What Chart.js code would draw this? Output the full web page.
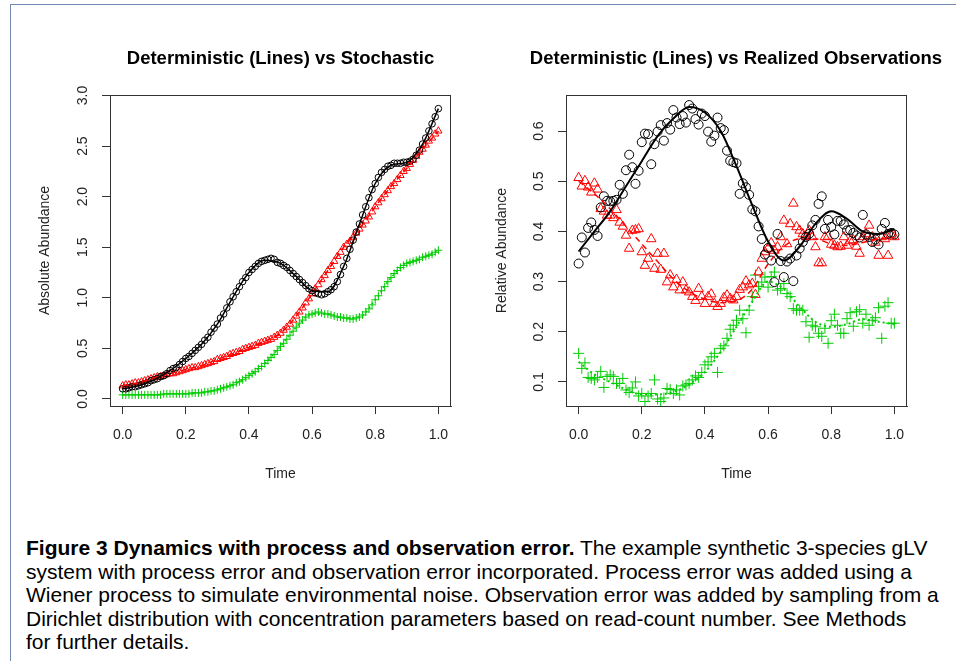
<!DOCTYPE html>
<html>
<head>
<meta charset="utf-8">
<script src="https://cdn.jsdelivr.net/npm/chart.js@4"></script>
<style>
  body { margin: 0; background: #fff; width: 956px; height: 661px; overflow: hidden; position: relative; }
  #frame { position: absolute; left: 10px; top: 4px; width: 960px; height: 700px;
           border-left: 1.5px solid #7089ad; border-top: 1.5px solid #7089ad; }
  #left { position: absolute; left: 0; top: 0; }
  #right { position: absolute; left: 478px; top: 0; }
  #caption { position: absolute; left: 26px; top: 536px; font-family: "Liberation Sans", Arial, sans-serif;
             font-size: 21px; line-height: 23.5px; color: #000; white-space: nowrap; }
</style>
</head>
<body>
<div id="frame"></div>
<canvas id="left" width="561" height="500"></canvas>
<canvas id="right" width="516" height="500"></canvas>
<div id="caption">
  <div><b>Figure 3 Dynamics with process and observation error.</b> The example synthetic 3-species gLV</div>
  <div>system with process error and observation error incorporated. Process error was added using a</div>
  <div>Wiener process to simulate environmental noise. Observation error was added by sampling from a</div>
  <div>Dirichlet distribution with concentration parameters based on read-count number. See Methods</div>
  <div>for further details.</div>
</div>
<script>
// sample times of the simulated / observed series
const timeObs = [0,0.01,0.02,0.03,0.04,0.05,0.06,0.07,0.08,0.09,
  0.10,0.11,0.12,0.13,0.14,0.15,0.16,0.17,0.18,0.19,
  0.20,0.21,0.22,0.23,0.24,0.25,0.26,0.27,0.28,0.29,
  0.30,0.31,0.32,0.33,0.34,0.35,0.36,0.37,0.38,0.39,
  0.40,0.41,0.42,0.43,0.44,0.45,0.46,0.47,0.48,0.49,
  0.50,0.51,0.52,0.53,0.54,0.55,0.56,0.57,0.58,0.59,
  0.60,0.61,0.62,0.63,0.64,0.65,0.66,0.67,0.68,0.69,
  0.70,0.71,0.72,0.73,0.74,0.75,0.76,0.77,0.78,0.79,
  0.80,0.81,0.82,0.83,0.84,0.85,0.86,0.87,0.88,0.89,
  0.90,0.91,0.92,0.93,0.94,0.95,0.96,0.97,0.98,0.99,1.00];
// times of the deterministic curves
const detTime = [0,0.05,0.10,0.15,0.20,0.25,0.30,0.35,0.40,0.45,0.50,
  0.55,0.60,0.65,0.70,0.75,0.80,0.85,0.90,0.95,1.00];

const xTicks = [0, 0.2, 0.4, 0.6, 0.8, 1.0];
const absTicks = [0, 0.5, 1.0, 1.5, 2.0, 2.5, 3.0];
const relTicks = [0.1, 0.2, 0.3, 0.4, 0.5, 0.6];

// left panel: stochastic absolute abundance
const absBlack = [0.10,0.10,0.11,0.12,0.12,0.13,0.14,0.15,0.16,0.18,
  0.19,0.20,0.22,0.23,0.25,0.28,0.30,0.31,0.34,0.37,
  0.40,0.42,0.45,0.48,0.51,0.54,0.58,0.61,0.66,0.70,
  0.74,0.80,0.84,0.90,0.96,1.01,1.06,1.11,1.16,1.20,
  1.25,1.28,1.31,1.34,1.36,1.37,1.38,1.39,1.38,1.35,
  1.34,1.32,1.30,1.27,1.24,1.21,1.18,1.15,1.12,1.09,
  1.07,1.05,1.04,1.03,1.04,1.06,1.08,1.11,1.16,1.23,
  1.31,1.39,1.48,1.57,1.65,1.73,1.82,1.90,1.99,2.07,
  2.13,2.19,2.24,2.27,2.30,2.31,2.33,2.33,2.33,2.34,
  2.34,2.35,2.37,2.41,2.46,2.52,2.58,2.65,2.72,2.79,2.87];
const absRed = [0.13,0.14,0.14,0.15,0.16,0.16,0.17,0.18,0.19,0.20,
  0.21,0.22,0.22,0.23,0.24,0.25,0.25,0.26,0.27,0.28,
  0.29,0.30,0.31,0.31,0.32,0.33,0.34,0.35,0.36,0.37,
  0.39,0.40,0.41,0.42,0.44,0.45,0.46,0.47,0.49,0.50,
  0.51,0.52,0.53,0.55,0.56,0.57,0.58,0.59,0.61,0.63,
  0.65,0.68,0.71,0.74,0.78,0.82,0.86,0.90,0.95,0.99,
  1.04,1.09,1.13,1.18,1.22,1.27,1.31,1.36,1.41,1.45,
  1.50,1.53,1.56,1.60,1.64,1.68,1.72,1.76,1.80,1.85,
  1.90,1.94,1.98,2.02,2.06,2.10,2.13,2.17,2.21,2.25,
  2.28,2.32,2.36,2.40,2.44,2.47,2.51,2.55,2.58,2.62,2.65];
const absGreen = [0.04,0.04,0.04,0.04,0.04,0.04,0.04,0.04,0.04,0.04,
  0.04,0.04,0.04,0.05,0.05,0.05,0.05,0.05,0.05,0.05,
  0.05,0.05,0.06,0.06,0.06,0.06,0.07,0.07,0.08,0.08,
  0.09,0.10,0.11,0.12,0.13,0.14,0.16,0.17,0.19,0.21,
  0.23,0.25,0.27,0.30,0.32,0.35,0.38,0.41,0.44,0.48,
  0.52,0.55,0.59,0.63,0.67,0.71,0.75,0.78,0.81,0.83,
  0.84,0.85,0.86,0.85,0.84,0.84,0.83,0.82,0.81,0.81,
  0.80,0.80,0.79,0.79,0.80,0.81,0.83,0.86,0.89,0.93,
  0.98,1.02,1.07,1.11,1.16,1.20,1.24,1.27,1.30,1.32,
  1.34,1.35,1.36,1.37,1.38,1.40,1.41,1.42,1.43,1.45,1.47];
const absBlackLine = [0.10,0.13,0.19,0.28,0.40,0.54,0.74,1.01,1.25,1.37,1.34,
  1.21,1.07,1.06,1.31,1.73,2.13,2.31,2.34,2.52,2.87];
const absRedLine = [0.13,0.16,0.21,0.25,0.29,0.33,0.39,0.45,0.51,0.57,0.65,
  0.82,1.04,1.27,1.50,1.68,1.90,2.10,2.28,2.47,2.65];
const absGreenLine = [0.04,0.04,0.04,0.05,0.05,0.06,0.09,0.14,0.23,0.35,0.52,
  0.71,0.84,0.84,0.80,0.81,0.98,1.20,1.34,1.40,1.47];

// right panel: observed relative abundance
const relBlack = [0.336,0.388,0.358,0.407,0.418,0.403,0.391,0.448,0.470,0.461,
  0.460,0.461,0.463,0.493,0.475,0.522,0.553,0.528,0.495,0.521,
  0.578,0.595,0.594,0.534,0.574,0.599,0.612,0.581,0.616,0.603,
  0.642,0.627,0.614,0.630,0.617,0.652,0.645,0.624,0.613,0.635,
  0.630,0.599,0.579,0.591,0.627,0.606,0.602,0.561,0.541,0.538,
  0.536,0.475,0.496,0.488,0.473,0.444,0.440,0.410,0.385,0.354,
  0.367,0.342,0.299,0.395,0.341,0.309,0.340,0.346,0.301,0.352,
  0.366,0.379,0.389,0.395,0.412,0.423,0.455,0.470,0.405,0.423,
  0.409,0.394,0.421,0.421,0.414,0.402,0.403,0.397,0.392,0.388,
  0.433,0.394,0.389,0.379,0.384,0.374,0.405,0.417,0.395,0.397,0.394];
const relRed = [0.507,0.490,0.501,0.488,0.478,0.496,0.484,0.445,0.440,0.432,
  0.432,0.427,0.443,0.418,0.410,0.392,0.366,0.402,0.403,0.405,
  0.359,0.332,0.346,0.385,0.326,0.356,0.324,0.356,0.299,0.313,
  0.289,0.304,0.283,0.299,0.283,0.279,0.270,0.262,0.286,0.270,
  0.256,0.270,0.275,0.256,0.250,0.256,0.268,0.273,0.266,0.263,
  0.270,0.284,0.289,0.301,0.293,0.296,0.274,0.319,0.346,0.359,
  0.366,0.377,0.362,0.369,0.389,0.422,0.375,0.415,0.456,0.409,
  0.402,0.395,0.389,0.402,0.389,0.369,0.337,0.337,0.389,0.390,
  0.374,0.372,0.369,0.370,0.389,0.372,0.381,0.383,0.370,0.356,
  0.389,0.395,0.412,0.389,0.378,0.352,0.389,0.385,0.352,0.394,0.389];
const relGreen = [0.157,0.127,0.138,0.109,0.107,0.104,0.109,0.121,0.089,0.111,
  0.114,0.111,0.097,0.097,0.107,0.084,0.079,0.088,0.100,0.072,
  0.077,0.061,0.072,0.077,0.104,0.066,0.061,0.068,0.087,0.085,
  0.077,0.084,0.074,0.092,0.094,0.097,0.104,0.112,0.109,0.119,
  0.134,0.140,0.150,0.157,0.119,0.167,0.172,0.187,0.205,0.213,
  0.223,0.243,0.226,0.198,0.243,0.270,0.313,0.290,0.299,0.309,
  0.289,0.310,0.319,0.283,0.286,0.296,0.276,0.270,0.246,0.243,
  0.243,0.243,0.220,0.189,0.213,0.210,0.197,0.191,0.207,0.177,
  0.222,0.235,0.213,0.197,0.197,0.226,0.238,0.211,0.240,0.244,
  0.217,0.235,0.213,0.223,0.228,0.248,0.187,0.251,0.258,0.217,0.217];
const relBlackLine = [0.36,0.40,0.44,0.49,0.54,0.59,0.625,0.648,0.637,0.60,0.53,
  0.452,0.38,0.342,0.37,0.415,0.44,0.425,0.40,0.395,0.405];
const relRedLine = [0.50,0.475,0.445,0.41,0.375,0.34,0.305,0.28,0.265,0.258,0.262,
  0.285,0.335,0.37,0.385,0.385,0.375,0.372,0.378,0.385,0.388];
const relGreenLine = [0.14,0.115,0.10,0.085,0.075,0.075,0.08,0.095,0.12,0.16,0.21,
  0.26,0.30,0.285,0.25,0.22,0.21,0.215,0.225,0.22,0.215];

Chart.defaults.font.family = "'Liberation Sans', Arial, sans-serif";
Chart.defaults.animation = false;

const RED = '#ff0000', GREEN = '#00cd00', BLACK = '#000000';

function pairs(xs, ys) {
  return ys.map((y, i) => ({ x: xs[i], y: y }));
}

function curve(ys, color, width, dash) {
  return {
    data: pairs(detTime, ys), showLine: true, pointRadius: 0,
    borderColor: color, borderWidth: width, borderDash: dash,
    cubicInterpolationMode: 'monotone'
  };
}

function marks(ys, color, style, r) {
  return {
    data: pairs(timeObs, ys), showLine: false, pointStyle: style,
    pointRadius: r, pointHoverRadius: r, pointBorderColor: color,
    pointBackgroundColor: 'rgba(0,0,0,0)', pointBorderWidth: 1
  };
}

// R style box round the plot region
const boxPlugin = {
  id: 'box',
  afterDraw(chart) {
    const { ctx, chartArea: a } = chart;
    ctx.save();
    ctx.strokeStyle = '#333';
    ctx.lineWidth = 1;
    ctx.strokeRect(Math.round(a.left) + 0.5, Math.round(a.top) + 0.5,
      Math.round(a.right - a.left) - 1, Math.round(a.bottom - a.top));
    ctx.restore();
  }
};

// canvases are wide enough that the full-width title sits over the plot box;
// an empty right-hand axis keeps the space to the right of the box
function panel(id, p) {
  return new Chart(document.getElementById(id), {
    type: 'scatter',
    data: { datasets: p.datasets },
    plugins: [boxPlugin],
    options: {
      responsive: false,
      layout: { padding: 0 },
      plugins: {
        legend: { display: false },
        tooltip: { enabled: false },
        title: {
          display: true, text: p.title, fullSize: true, color: '#000',
          font: { size: 18.5, weight: 'bold' },
          padding: { top: 47.9, bottom: 24.9 }
        }
      },
      scales: {
        x: {
          type: 'linear', min: -0.04, max: 1.04,
          afterBuildTicks: s => { s.ticks = xTicks.map(v => ({ value: v })); },
          afterFit: s => { s.height = 94; },
          ticks: { callback: v => v.toFixed(1), font: { size: 14 }, color: '#222', padding: 13, maxRotation: 0 },
          grid: { drawOnChartArea: false, tickLength: 8, color: '#333' },
          border: { color: '#333' },
          title: { display: true, text: 'Time', font: { size: 14 }, color: '#222', padding: { top: 0, bottom: 17.6 } }
        },
        y: {
          type: 'linear', min: p.yMin, max: p.yMax,
          afterBuildTicks: s => { s.ticks = p.yTicks.map(v => ({ value: v })); },
          afterFit: s => { s.width = p.yWidth; },
          ticks: { callback: v => v.toFixed(1), font: { size: 14 }, color: '#222',
                   minRotation: 90, maxRotation: 90, crossAlign: 'center', padding: 9 },
          grid: { drawOnChartArea: false, tickLength: 8, color: '#333' },
          border: { color: '#333' },
          title: { display: true, text: p.yTitle, font: { size: 14 }, color: '#222',
                   padding: { top: p.yTitlePad, bottom: 0 } }
        },
        spacer: {
          type: 'linear', position: 'right', display: true,
          ticks: { display: false }, grid: { display: false }, border: { display: false },
          afterFit: s => { s.width = p.rightPad; }
        }
      }
    }
  });
}

panel('left', {
  title: 'Deterministic (Lines) vs Stochastic',
  yTitle: 'Absolute Abundance', yTitlePad: 36.6,
  yMin: -0.07, yMax: 3.005, yTicks: absTicks, yWidth: 110, rightPad: 110,
  datasets: [
    curve(absBlackLine, BLACK, 1.5, []),
    curve(absRedLine, RED, 1.5, [6, 4]),
    curve(absGreenLine, GREEN, 1.5, [2, 3]),
    marks(absBlack, BLACK, 'circle', 3.3),
    marks(absRed, RED, 'triangle', 4.2),
    marks(absGreen, GREEN, 'cross', 4)
  ]
});

panel('right', {
  title: 'Deterministic (Lines) vs Realized Observations',
  yTitle: 'Relative Abundance', yTitlePad: 15.6,
  yMin: 0.052, yMax: 0.672, yTicks: relTicks, yWidth: 88, rightPad: 87,
  datasets: [
    curve(relBlackLine, BLACK, 2, []),
    curve(relRedLine, RED, 1.5, [6, 4]),
    curve(relGreenLine, GREEN, 2, [2, 3]),
    marks(relBlack, BLACK, 'circle', 4.5),
    marks(relRed, RED, 'triangle', 5.5),
    marks(relGreen, GREEN, 'cross', 5.5)
  ]
});
</script>
</body>
</html>
